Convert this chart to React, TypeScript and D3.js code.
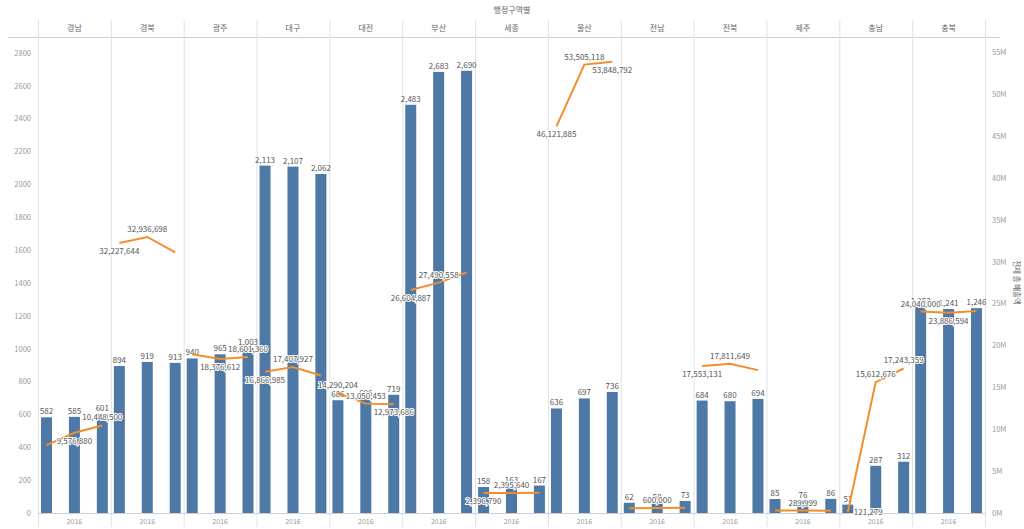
import React from 'react';
import * as d3 from 'd3';

const title = '행정구역별';
const regions = ['경남', '경북', '광주', '대구', '대전', '부산', '세종', '울산', '전남', '전북', '제주', '충남', '충북'];
const years = ['2016', '2017', '2018'];
const axisYearLabel = '2016';

// bar values (left axis)
const count2016 = [582, 894, 940, 2113, 686, 2483, 158, 636, 62, 684, 85, 51, 1253];
const count2017 = [585, 919, 965, 2107, 696, 2683, 163, 697, 58, 680, 76, 287, 1241];
const count2018 = [601, 913, 1003, 2062, 719, 2690, 167, 736, 73, 694, 86, 312, 1246];

// line values (right axis)
const amount2016 = [8100000, 32227644, 18950000, 16866985, 14290204, 26604887, 2396790, 46121885, 580000, 17553131, 300000, 121279, 24040000];
const amount2017 = [9576880, 32936698, 18376612, 17407927, 13050453, 27490558, 2395640, 53505118, 600000, 17811649, 289999, 15612676, 23886594];
const amount2018 = [10448500, 31100000, 18601360, 16400000, 12973686, 28700000, 2410000, 53848792, 620000, 17050000, 280000, 17243359, 24100000];

// label placement for line points: a = above, b = below, r = right, '' = hidden
const lineLabel2016 = ['', 'b', '', 'b', 'a', 'b', 'b', 'b', '', 'b', '', 'r', 'a'];
const lineLabel2017 = ['b', 'a', 'b', 'a', 'a', 'a', 'a', 'a', 'a', 'a', 'a', 'a', 'b'];
const lineLabel2018 = ['a', '', 'a', '', 'b', '', '', 'b', '', '', '', 'a', ''];

const leftTicks = [0, 200, 400, 600, 800, 1000, 1200, 1400, 1600, 1800, 2000, 2200, 2400, 2600, 2800];
const rightTicks = [0, 5e6, 10e6, 15e6, 20e6, 25e6, 30e6, 35e6, 40e6, 45e6, 50e6, 55e6];
const rightAxisTitle = '전체 총 매출액';

const W = 1024;
const H = 529;
const X0 = 38;
const X1 = 985;
const YTOP = 42;
const YBOT = 513;
const FONT = "'Noto Sans CJK KR', 'Noto Sans', sans-serif";
const BAR = '#4e79a7';
const LINE = '#f28e2b';
const GRID = '#e2e2e2';
const TXT = '#666';

export default function App() {
  const panel = d3.scaleBand<string>().domain(regions).range([X0, X1]).padding(0);
  const inner = d3.scalePoint<string>().domain(years).range([0, panel.bandwidth()]).padding(0.305);
  const yL = d3.scaleLinear().domain([0, 2865]).range([YBOT, YTOP]);
  const yR = d3.scaleLinear().domain([0, 56.2e6]).range([YBOT, YTOP]);
  const fmt = d3.format(',');
  const fmtM = (v: number) => `${v / 1e6}M`;
  const barW = 11;

  const counts = [count2016, count2017, count2018];
  const amounts = [amount2016, amount2017, amount2018];
  const labels = [lineLabel2016, lineLabel2017, lineLabel2018];

  const line = d3.line<[number, number]>().x((d) => d[0]).y((d) => d[1]);

  return (
    <svg width={W} height={H} style={{ position: 'absolute', left: 0, top: 0, background: '#fff' }} fontFamily={FONT}>
      <text x={512} y={13} textAnchor="middle" fontSize={8} fill={TXT}>{title}</text>
      <line x1={8} x2={1000} y1={37.5} y2={37.5} stroke="#cfcfcf" />
      {regions.map((r) => (
        <line key={'sep' + r} x1={panel(r)! + 0.5} x2={panel(r)! + 0.5} y1={20} y2={YBOT + 14} stroke={GRID} />
      ))}
      <line x1={X1 + 0.5} x2={X1 + 0.5} y1={20} y2={YBOT + 14} stroke={GRID} />
      {regions.map((r) => (
        <text key={'h' + r} x={panel(r)! + panel.bandwidth() / 2} y={31} textAnchor="middle" fontSize={8} fill={TXT}>{r}</text>
      ))}
      {leftTicks.map((t) => (
        <text key={'l' + t} x={31} y={yL(t) + 3} textAnchor="end" fontSize={7.5} fill="#999">{t}</text>
      ))}
      {rightTicks.map((t) => (
        <text key={'r' + t} x={992} y={yR(t) + 3} textAnchor="start" fontSize={7.5} fill="#999">{fmtM(t)}</text>
      ))}
      <text transform={`translate(1014, ${(YTOP + YBOT) / 2 + 5}) rotate(90)`} textAnchor="middle" fontSize={7.5} fill={TXT}>{rightAxisTitle}</text>
      <line x1={X0} x2={X1} y1={YBOT + 0.5} y2={YBOT + 0.5} stroke="#cfcfcf" />
      {regions.map((r) => (
        <text key={'b' + r} x={panel(r)! + panel.bandwidth() / 2} y={524} textAnchor="middle" fontSize={7} fill="#999">{axisYearLabel}</text>
      ))}
      {regions.map((r, i) => (
        <g key={'bars' + r}>
          {years.map((yr, k) => {
            const cx = panel(r)! + inner(yr)!;
            const v = counts[k][i];
            return (
              <g key={yr}>
                <rect x={cx - barW / 2} y={yL(v)} width={barW} height={YBOT - yL(v)} fill={BAR} />
                <text x={cx} y={yL(v) - 3} textAnchor="middle" fontSize={8} fill="#555">{fmt(v)}</text>
              </g>
            );
          })}
        </g>
      ))}
      {regions.map((r, i) => {
        const pts: [number, number][] = years.map((yr, k) => [panel(r)! + inner(yr)!, yR(amounts[k][i])]);
        return (
          <g key={'line' + r}>
            <path d={line(pts)!} fill="none" stroke={LINE} strokeWidth={2} />
            {pts.map((p, k) => {
              const pos = labels[k][i];
              if (!pos) return null;
              const tx = pos === 'r' ? p[0] + 6 : p[0];
              const ty = pos === 'a' ? p[1] - 5 : pos === 'b' ? p[1] + 11 : p[1] + 3;
              return (
                <text key={k} x={tx} y={ty} textAnchor={pos === 'r' ? 'start' : 'middle'} fontSize={8} fill="#555"
                  stroke="#fff" strokeWidth={2} paintOrder="stroke">{fmt(amounts[k][i])}</text>
              );
            })}
          </g>
        );
      })}
    </svg>
  );
}
